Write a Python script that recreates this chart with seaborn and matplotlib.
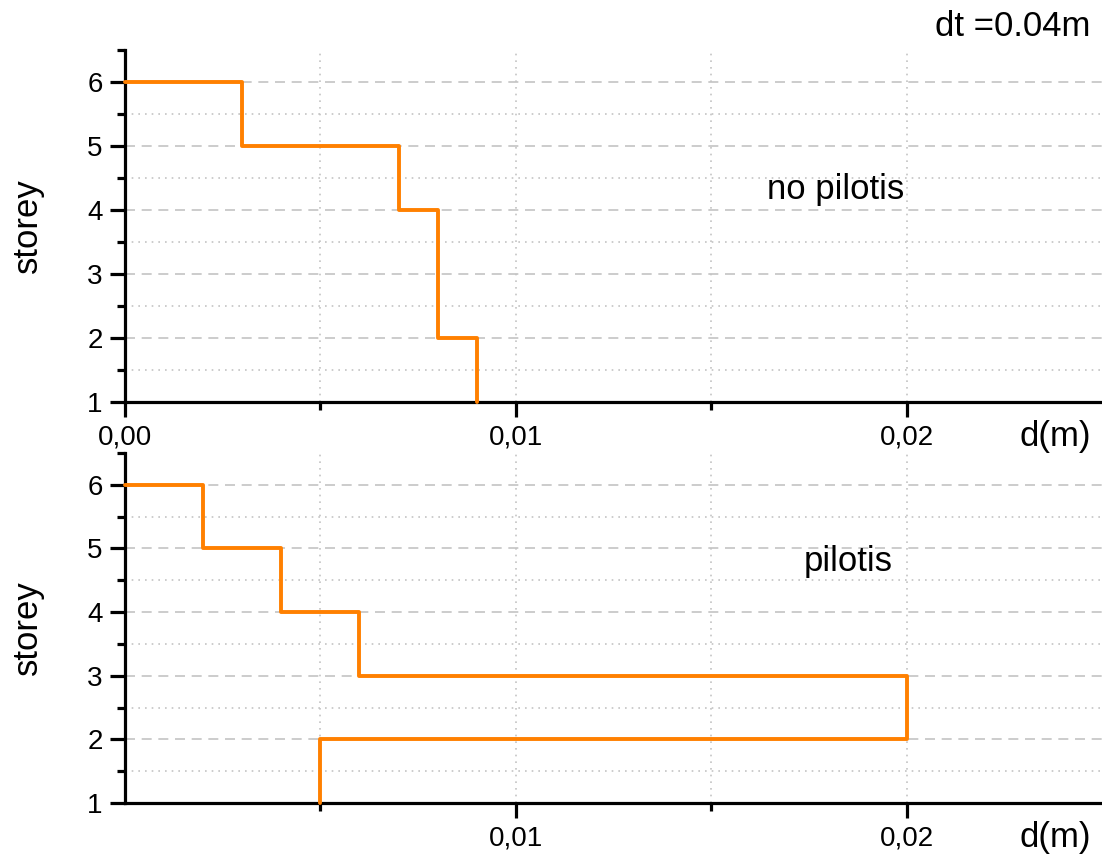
import matplotlib
matplotlib.use("Agg")
import matplotlib.pyplot as plt
import seaborn as sns
import pandas as pd
from matplotlib.ticker import FixedLocator, FixedFormatter

# ---- data ----
storeys = [6, 5, 4, 3, 2, 1]
drift_no_pilotis = [0.003, 0.007, 0.008, 0.008, 0.009]   # between storey i and i+1
drift_pilotis = [0.002, 0.004, 0.006, 0.020, 0.005]
top_xticks = [0.0, 0.01, 0.02]
top_xticklabels = ["0,00", "0,01", "0,02"]
bot_xticks = [0.01, 0.02]
bot_xticklabels = ["0,01", "0,02"]
yticks = [1, 2, 3, 4, 5, 6]
panel_labels = ["no pilotis", "pilotis"]
title_text = "dt =0.04m"

sns.set_style("white")
plt.rcParams['font.family'] = ['Liberation Sans', 'DejaVu Sans']
plt.rcParams['text.color'] = 'black'
plt.rcParams['axes.labelcolor'] = 'black'

ORANGE = "#FF8000"
GRID = "#c4c4c4"
TXT = 25


def step_path(levels, drifts):
    xs, ys = [0.0], [levels[0]]
    for i, d in enumerate(drifts):
        xs += [d, d]
        ys += [levels[i], levels[i + 1]]
    return pd.DataFrame({"d": xs, "storey": ys, "order": range(len(xs))})


fig = plt.figure(figsize=(11.02, 8.57), dpi=100)
W, H = 1102, 857
left = 125 / W
width = 1 - left
ax1 = fig.add_axes([left, 1 - 402 / H, width, (402 - 50) / H])
ax2 = fig.add_axes([left, 1 - 803 / H, width, (803 - 453) / H])

for ax, drifts, xt, xtl, lab, lab_xy in [
    (ax1, drift_no_pilotis, top_xticks, top_xticklabels, panel_labels[0], (836, 190)),
    (ax2, drift_pilotis, bot_xticks, bot_xticklabels, panel_labels[1], (848, 562)),
]:
    df = step_path(storeys, drifts)
    sns.lineplot(data=df, x="d", y="storey", sort=False, estimator=None,
                 color=ORANGE, linewidth=2.8, ax=ax, clip_on=False, zorder=5)
    ax.set_xlim(0, 0.025)
    ax.set_ylim(1, 6.5)
    ax.xaxis.set_major_locator(FixedLocator(xt))
    ax.xaxis.set_major_formatter(FixedFormatter(xtl))
    ax.xaxis.set_minor_locator(FixedLocator([0.005, 0.015]))
    ax.yaxis.set_major_locator(FixedLocator(yticks))
    ax.yaxis.set_minor_locator(FixedLocator([1.5, 2.5, 3.5, 4.5, 5.5, 6.5]))
    for s in ["top", "right"]:
        ax.spines[s].set_visible(False)
    for s in ["left", "bottom"]:
        ax.spines[s].set_linewidth(2.3)
        ax.spines[s].set_color("black")
    ax.tick_params(which="major", direction="out", length=11, width=2.3,
                   labelsize=20, pad=5, colors="black", left=True, bottom=True)
    ax.tick_params(which="minor", direction="out", length=6, width=2.3,
                   left=True, bottom=True, colors="black")
    # grid
    for v in [0.005, 0.01, 0.015, 0.02]:
        ax.axvline(v, color=GRID, linestyle=(0, (1, 3)), linewidth=1.2, zorder=0)
    for yv in [2, 3, 4, 5, 6]:
        ax.axhline(yv, color=GRID, linestyle=(0, (6, 4)), linewidth=1.2, zorder=0)
    for yv in [1.5, 2.5, 3.5, 4.5, 5.5]:
        ax.axhline(yv, color=GRID, linestyle=(0, (1, 3)), linewidth=1.2, zorder=0)
    ax.set_xlabel("")
    ax.set_ylabel("storey", fontsize=TXT, color="black")
    ax.yaxis.set_label_coords(-(125 - 44) / 977, 0.5)
    fig.text(lab_xy[0] / W, 1 - lab_xy[1] / H, lab, fontsize=TXT,
             ha="center", va="center")

fig.text(1055 / W, 1 - 437 / H, "d(m)", fontsize=TXT, ha="center", va="center")
fig.text(1055 / W, 1 - 837 / H, "d(m)", fontsize=TXT, ha="center", va="center")
fig.text(1013 / W, 1 - 27 / H, title_text, fontsize=TXT, ha="center", va="center")

fig.savefig("out.png", dpi=100)
